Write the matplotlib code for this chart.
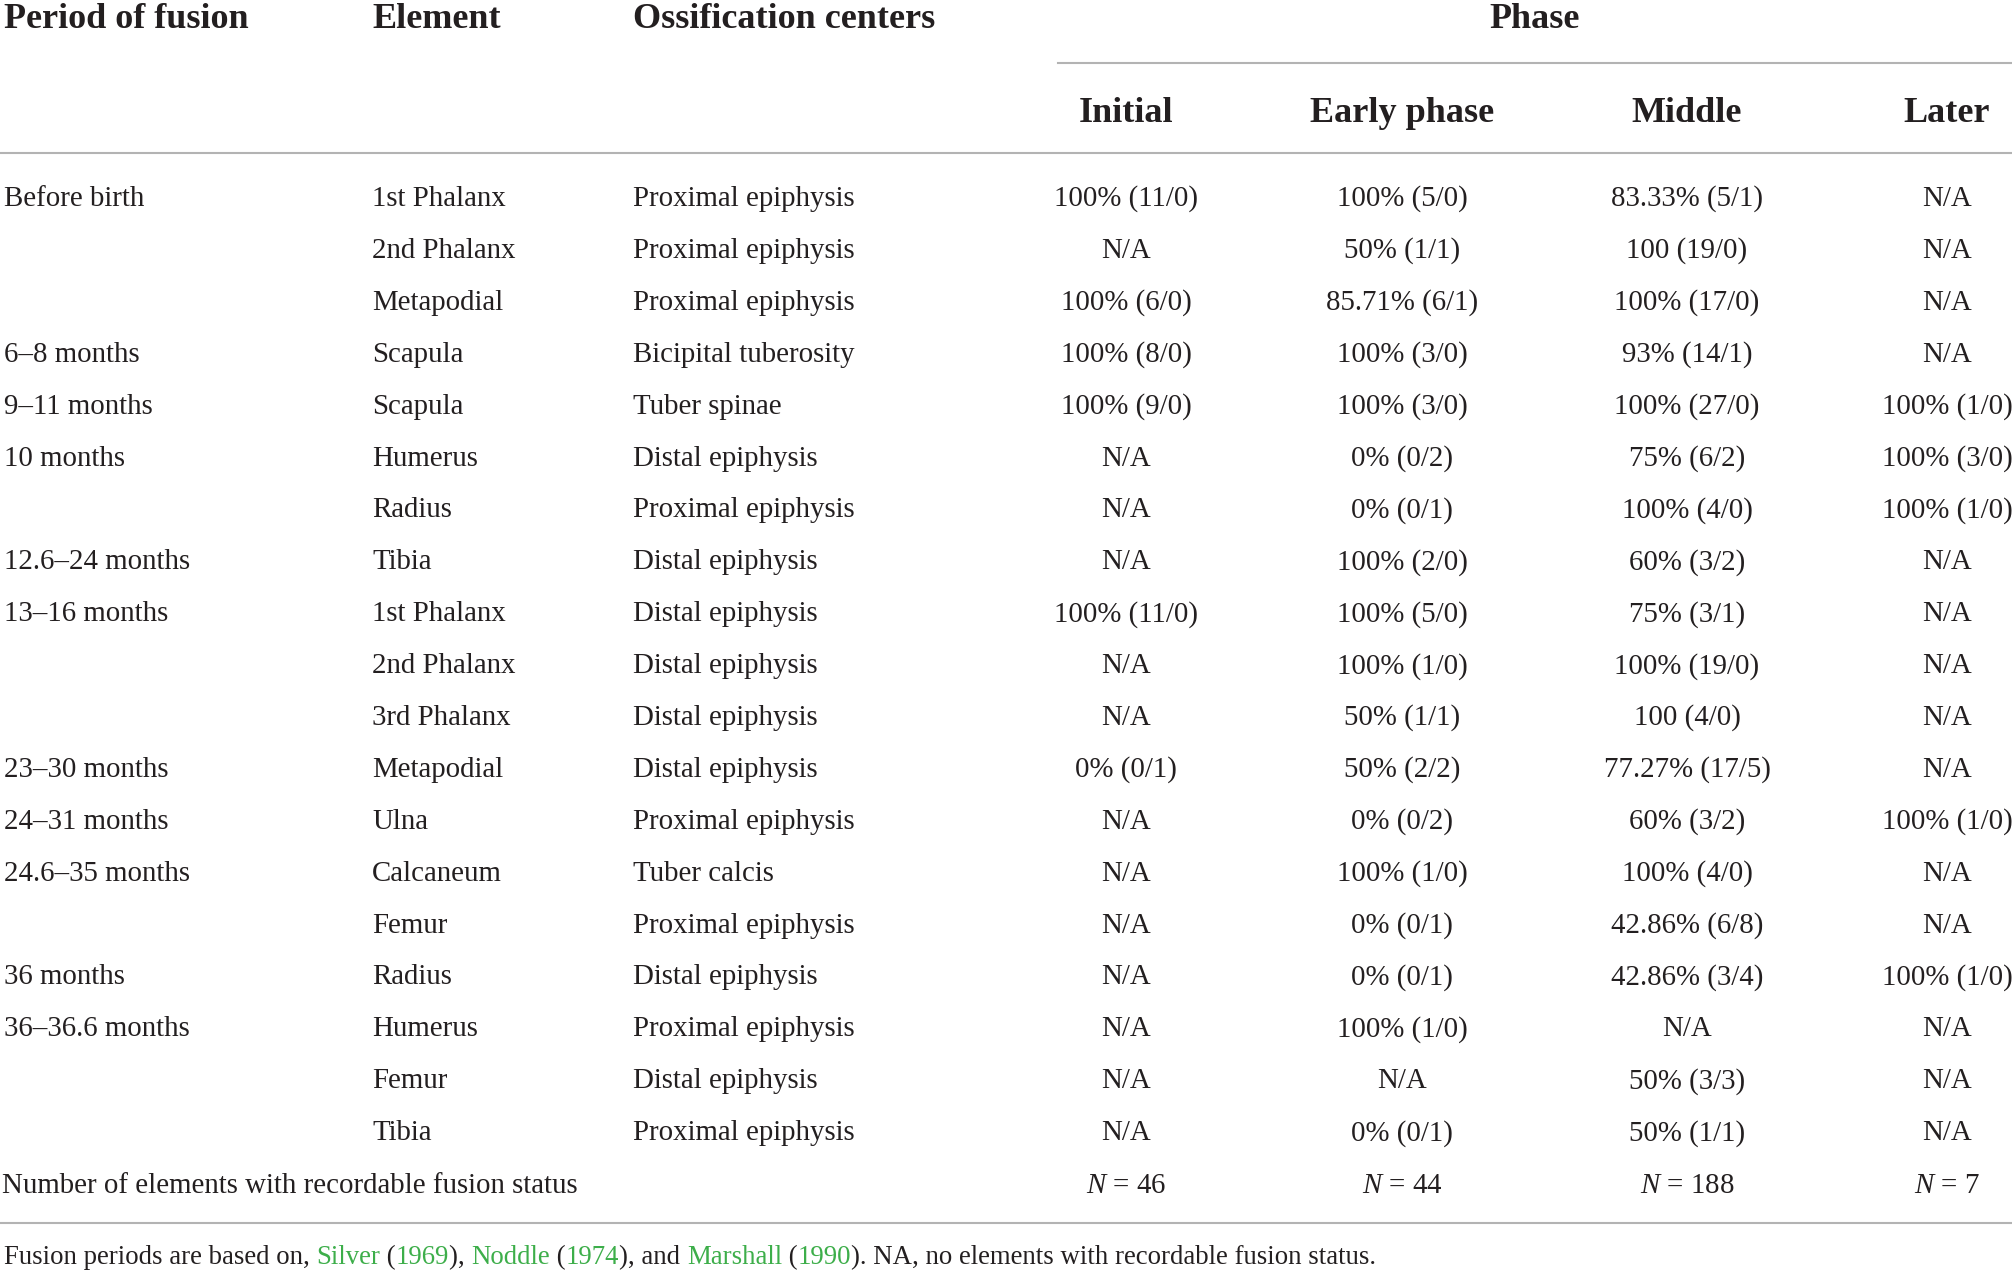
import matplotlib
matplotlib.use("Agg")
import matplotlib.pyplot as plt

plt.rcParams['font.family'] = ['Liberation Serif', 'DejaVu Serif']
plt.rcParams['mathtext.fontset'] = 'custom'
plt.rcParams['mathtext.rm'] = 'Liberation Serif'
plt.rcParams['mathtext.it'] = 'Liberation Serif:italic'

headers = ["Period of fusion", "Element", "Ossification centers"]
phases = ["Initial", "Early phase", "Middle", "Later"]

periods = ["Before birth", "", "", "6\u20138 months", "9\u201311 months", "10 months", "",
           "12.6\u201324 months", "13\u201316 months", "", "", "23\u201330 months",
           "24\u201331 months", "24.6\u201335 months", "", "36 months", "36\u201336.6 months", "", ""]
elements = ["1st Phalanx", "2nd Phalanx", "Metapodial", "Scapula", "Scapula", "Humerus", "Radius",
            "Tibia", "1st Phalanx", "2nd Phalanx", "3rd Phalanx", "Metapodial", "Ulna",
            "Calcaneum", "Femur", "Radius", "Humerus", "Femur", "Tibia"]
centers = ["Proximal epiphysis", "Proximal epiphysis", "Proximal epiphysis", "Bicipital tuberosity",
           "Tuber spinae", "Distal epiphysis", "Proximal epiphysis", "Distal epiphysis",
           "Distal epiphysis", "Distal epiphysis", "Distal epiphysis", "Distal epiphysis",
           "Proximal epiphysis", "Tuber calcis", "Proximal epiphysis", "Distal epiphysis",
           "Proximal epiphysis", "Distal epiphysis", "Proximal epiphysis"]
initial = ["100% (11/0)", "N/A", "100% (6/0)", "100% (8/0)", "100% (9/0)", "N/A", "N/A", "N/A",
           "100% (11/0)", "N/A", "N/A", "0% (0/1)", "N/A", "N/A", "N/A", "N/A", "N/A", "N/A", "N/A"]
early = ["100% (5/0)", "50% (1/1)", "85.71% (6/1)", "100% (3/0)", "100% (3/0)", "0% (0/2)",
         "0% (0/1)", "100% (2/0)", "100% (5/0)", "100% (1/0)", "50% (1/1)", "50% (2/2)",
         "0% (0/2)", "100% (1/0)", "0% (0/1)", "0% (0/1)", "100% (1/0)", "N/A", "0% (0/1)"]
middle = ["83.33% (5/1)", "100 (19/0)", "100% (17/0)", "93% (14/1)", "100% (27/0)", "75% (6/2)",
          "100% (4/0)", "60% (3/2)", "75% (3/1)", "100% (19/0)", "100 (4/0)", "77.27% (17/5)",
          "60% (3/2)", "100% (4/0)", "42.86% (6/8)", "42.86% (3/4)", "N/A", "50% (3/3)", "50% (1/1)"]
later = ["N/A", "N/A", "N/A", "N/A", "100% (1/0)", "100% (3/0)", "100% (1/0)", "N/A", "N/A",
         "N/A", "N/A", "N/A", "100% (1/0)", "N/A", "N/A", "100% (1/0)", "N/A", "N/A", "N/A"]
summary_label = "Number of elements with recordable fusion status"
summary_n = ["46", "44", "188", "7"]

footer = [("Fusion periods are based on, ", False), ("Silver", True), (" (", False), ("1969", True),
          ("), ", False), ("Noddle", True), (" (", False), ("1974", True), ("), and ", False),
          ("Marshall", True), (" (", False), ("1990", True),
          ("). NA, no elements with recordable fusion status.", False)]

TXT = '#231f20'
GREEN = '#3dae4a'
LINE = '#b3b3b3'

fig = plt.figure(figsize=(20.12, 12.7), dpi=100)
ax = fig.add_axes([0, 0, 1, 1])
ax.set_xlim(0, 2012)
ax.set_ylim(1270, 0)
ax.axis('off')

fs = 20.8
hfs = 26
ffs = 19.3
left_x = [4, 372, 633]
phase_x = [1126, 1402, 1687, 1947]

for x, h in zip(left_x, headers):
    ax.text(x, 19, h, fontsize=hfs, fontweight='bold', color=TXT, ha='left', va='center')
ax.text(1535, 19, "Phase", fontsize=hfs, fontweight='bold', color=TXT, ha='center', va='center')
for x, p in zip(phase_x, phases):
    ax.text(x, 113, p, fontsize=hfs, fontweight='bold', color=TXT, ha='center', va='center')

ax.plot([1058, 2012], [63, 63], color=LINE, lw=1.5)
ax.plot([0, 2012], [153, 153], color=LINE, lw=1.5)
ax.plot([0, 2012], [1223, 1223], color=LINE, lw=1.5)

y0, dy = 199, 51.9
for i in range(len(elements)):
    y = y0 + i * dy
    for x, s in zip(left_x, [periods[i], elements[i], centers[i]]):
        ax.text(x, y, s, fontsize=fs, color=TXT, ha='left', va='center')
    for x, s in zip(phase_x, [initial[i], early[i], middle[i], later[i]]):
        ax.text(x, y, s, fontsize=fs, color=TXT, ha='center', va='center')

ys = 1186
ax.text(2, ys, summary_label, fontsize=fs, color=TXT, ha='left', va='center')
for x, n in zip(phase_x, summary_n):
    ax.text(x, ys, "$N$ = " + n, fontsize=fs, color=TXT, ha='center', va='center')

# footer with coloured citation pieces laid end to end
fig.canvas.draw()
r = fig.canvas.get_renderer()
xpix = 4
for s, g in footer:
    t = ax.text(xpix, 1258, s, fontsize=ffs, color=GREEN if g else TXT, ha='left', va='center')
    w = t.get_window_extent(renderer=r).width
    xpix += w

fig.savefig("out.png", dpi=100)
